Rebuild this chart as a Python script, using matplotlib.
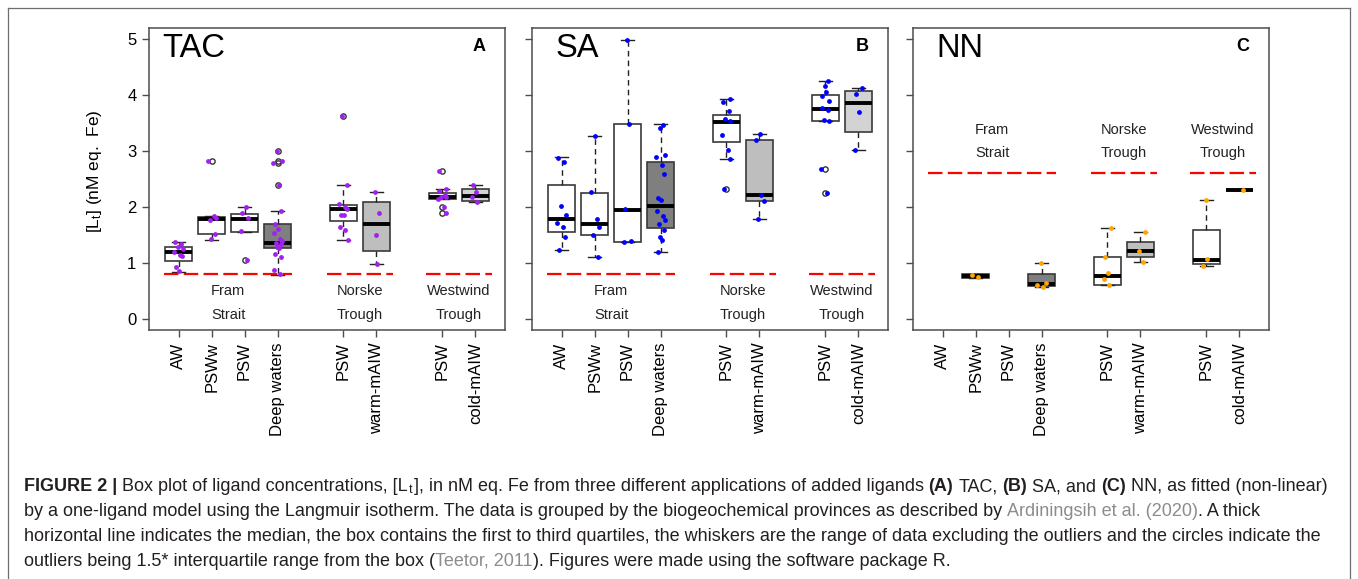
import matplotlib
matplotlib.use('Agg')
import matplotlib.pyplot as plt
from matplotlib.lines import Line2D

plt.rcParams['font.family'] = ['Liberation Sans', 'DejaVu Sans']
plt.rcParams['mathtext.fontset'] = 'custom'
plt.rcParams['mathtext.rm'] = 'Liberation Sans'
plt.rcParams['mathtext.it'] = 'Liberation Sans:italic'
plt.rcParams['mathtext.bf'] = 'Liberation Sans:bold'

# ---- data ----
positions = [1, 2, 3, 4, 6, 7, 9, 10]
xlabels = ['AW', 'PSWw', 'PSW', 'Deep waters', 'PSW', 'warm-mAIW', 'PSW', 'cold-mAIW']
fills = ['white', 'white', 'white', '#7f7f7f', 'white', '#bebebe', 'white', '#d3d3d3']
regions = ['Fram\n\nStrait', 'Norske\n\nTrough', 'Westwind\n\nTrough']
region_x = [2.5, 6.5, 9.5]
region_span = [(0.55, 4.45), (5.5, 7.5), (8.5, 10.5)]

# TAC
tac_q1 = [1.04, 1.51, 1.56, 1.27, 1.75, 1.22, 2.15, 2.11]
tac_med = [1.19, 1.79, 1.79, 1.36, 1.97, 1.69, 2.18, 2.20]
tac_q3 = [1.29, 1.82, 1.88, 1.69, 2.03, 2.08, 2.25, 2.32]
tac_lo = [0.84, 1.41, 1.56, 0.79, 1.41, 0.98, 2.15, 2.08]
tac_hi = [1.365, 1.83, 2.00, 1.92, 2.385, 2.27, 2.325, 2.39]
tac_pts = [
    [1.365, 1.33, 1.28, 1.24, 1.19, 1.15, 1.13, 0.93, 0.85],
    [2.82, 1.83, 1.80, 1.76, 1.52, 1.42],
    [2.00, 1.89, 1.80, 1.57, 1.06],
    [3.00, 2.82, 2.79, 2.40, 1.92, 1.70, 1.60, 1.53, 1.43, 1.39, 1.36, 1.33,
     1.28, 1.26, 1.16, 1.10, 0.88, 0.80],
    [3.62, 2.39, 2.05, 2.00, 1.97, 1.86, 1.85, 1.64, 1.59, 1.41],
    [2.27, 1.90, 1.49, 0.98],
    [2.64, 2.32, 2.28, 2.22, 2.18, 2.17, 2.15, 2.00, 1.89],
    [2.39, 2.27, 2.17, 2.09],
]
tac_ref = 0.81

# SA
sa_q1 = [1.56, 1.49, 1.38, 1.63, 3.16, 2.10, 3.53, 3.34]
sa_med = [1.78, 1.70, 1.95, 2.02, 3.52, 2.22, 3.76, 3.86]
sa_q3 = [2.40, 2.25, 3.48, 2.81, 3.64, 3.19, 4.01, 4.08]
sa_lo = [1.23, 1.10, 1.38, 1.19, 2.86, 1.78, 3.53, 3.01]
sa_hi = [2.885, 3.27, 4.98, 3.48, 3.93, 3.31, 4.245, 4.13]
sa_pts = [
    [2.88, 2.81, 2.01, 1.86, 1.71, 1.65, 1.47, 1.23],
    [3.27, 2.26, 1.79, 1.64, 1.50, 1.10],
    [4.98, 3.48, 1.96, 1.39, 1.37],
    [3.47, 3.42, 2.93, 2.89, 2.75, 2.59, 2.16, 2.13, 1.93, 1.84, 1.77, 1.69,
     1.59, 1.47, 1.41, 1.19],
    [3.93, 3.88, 3.72, 3.58, 3.53, 3.29, 3.01, 2.86, 2.32],
    [3.31, 3.20, 2.22, 2.11, 1.78],
    [4.245, 4.16, 4.05, 3.98, 3.89, 3.77, 3.73, 3.56, 3.53, 2.68, 2.25],
    [4.13, 4.02, 3.70, 3.01],
]
sa_ref = 0.81

# NN (no data for AW and Fram PSW)
nn_q1 = [None, 0.73, None, 0.585, 0.61, 1.10, 0.98, 2.31]
nn_med = [None, 0.765, None, 0.625, 0.76, 1.22, 1.05, 2.31]
nn_q3 = [None, 0.80, None, 0.805, 1.11, 1.38, 1.59, 2.31]
nn_lo = [None, 0.73, None, 0.56, 0.61, 1.01, 0.94, 2.31]
nn_hi = [None, 0.80, None, 1.00, 1.63, 1.56, 2.13, 2.31]
nn_pts = [
    [],
    [0.79, 0.74],
    [],
    [1.00, 0.64, 0.61, 0.56],
    [1.63, 1.11, 0.82, 0.72, 0.61],
    [1.56, 1.22, 1.01],
    [2.13, 1.07, 0.94],
    [2.31],
]
nn_ref = 2.6

# ---- style ----
W, H = 1358, 579
jit = [-0.10, 0.08, -0.03, 0.12, -0.13, 0.04, 0.10, -0.07, 0.01, -0.11,
       0.06, 0.13, -0.05, 0.09, -0.01, 0.03, -0.09, 0.11]
edge = '#3a3a3a'

fig = plt.figure(figsize=(W / 100, H / 100), dpi=100)

panels = [
    ('TAC', 'A', tac_q1, tac_med, tac_q3, tac_lo, tac_hi, tac_pts, tac_ref, '#a020f0', 149, 0.036, (0.49, 0.07)),
    ('SA', 'B', sa_q1, sa_med, sa_q3, sa_lo, sa_hi, sa_pts, sa_ref, '#0000ff', 532, 0.066, (0.49, 0.07)),
    ('NN', 'C', nn_q1, nn_med, nn_q3, nn_lo, nn_hi, nn_pts, nn_ref, '#ffa500', 913, 0.066, (3.38, 2.97)),
]

for i, (name, letter, q1, med, q3, lo, hi, pts, ref, pcol, left, tx, ry) in enumerate(panels):
    ax = fig.add_axes([left / W, 1 - 330 / H, 356 / W, 302 / H])
    stats, pos, fc = [], [], []
    for j in range(len(positions)):
        if med[j] is None:
            continue
        stats.append(dict(med=med[j], q1=q1[j], q3=q3[j], whislo=lo[j], whishi=hi[j], fliers=[]))
        pos.append(positions[j])
        fc.append(fills[j])
    bp = ax.bxp(stats, positions=pos, widths=0.8, patch_artist=True, showfliers=False,
                boxprops=dict(edgecolor=edge, linewidth=1.2),
                medianprops=dict(color='black', linewidth=2.8, solid_capstyle='butt'),
                whiskerprops=dict(color='#222222', linewidth=1.0, linestyle=(0, (4, 3))),
                capprops=dict(color='#222222', linewidth=1.0), capwidths=0.4)
    for patch, c in zip(bp['boxes'], fc):
        patch.set_facecolor(c)

    # reference line per region
    for (a, b) in region_span:
        ax.plot([a, b], [ref, ref], color='#ff0000', linewidth=1.6,
                dashes=(6.5, 2.4), solid_capstyle='butt', zorder=3)

    # points and outliers
    k = 0
    for j, vals in enumerate(pts):
        for v in vals:
            x = positions[j] + jit[k % len(jit)]
            k += 1
            if med[j] is not None and (v > hi[j] + 0.02 or v < lo[j] - 0.02):
                ax.plot(positions[j], v, 'o', mfc='none', mec='#333333', ms=3.8, mew=1.0, zorder=4)
            ax.scatter(x, v, s=12, color=pcol, linewidths=0, zorder=5)

    for rx, lab in zip(region_x, regions):
        top, bottom = lab.split('\n\n')
        ax.text(rx, ry[0], top, ha='center', va='center', fontsize=10.5, color='#222222')
        ax.text(rx, ry[1], bottom, ha='center', va='center', fontsize=10.5, color='#222222')

    ax.text(tx, 0.903, name, transform=ax.transAxes, fontsize=23.5, va='baseline', ha='left')
    ax.text(0.945, 0.925, letter, transform=ax.transAxes, fontsize=13, fontweight='bold',
            va='baseline', ha='right')

    ax.set_xlim(0.1, 10.9)
    ax.set_ylim(-0.2, 5.2)
    ax.set_xticks(positions)
    ax.set_xticklabels(xlabels, rotation=90, fontsize=12)
    ax.set_yticks([0, 1, 2, 3, 4, 5])
    if i == 0:
        ax.set_yticklabels(['0', '1', '2', '3', '4', '5'], fontsize=12)
    else:
        ax.set_yticklabels([])
    for s in ax.spines.values():
        s.set_color('#4d4d4d')
        s.set_linewidth(1.1)
    ax.tick_params(direction='out', length=5, width=1.0, color='#4d4d4d', pad=4)

fig.text(95 / W, 1 - 171 / H, r'[L$_{\mathregular{t}}$] (nM eq.  Fe)', rotation=90,
         ha='center', va='center', fontsize=12.5)

# outer frame
for xs, ys in [((8, 8), (8, 600)), ((8, 1350), (8, 8)), ((1350, 1350), (8, 600))]:
    fig.add_artist(Line2D([x / W for x in xs], [1 - y / H for y in ys],
                          transform=fig.transFigure, color='#6e6e6e', linewidth=0.9))

# ---- caption ----
cap_lines = [
    [('FIGURE 2 |', 'b'), (' Box plot of ligand concentrations, [L', 'n'), ('$_{\\mathregular{t}}$', 'n'),
     ('], in nM eq. Fe from three different applications of added ligands ', 'n'),
     ('(A)', 'b'), (' TAC, ', 'n'), ('(B)', 'b'), (' SA, and ', 'n'), ('(C)', 'b'), (' NN, as fitted (non-linear)', 'n')],
    [('by a one-ligand model using the Langmuir isotherm. The data is grouped by the biogeochemical provinces as described by ', 'n'),
     ('Ardiningsih et al. (2020)', 'g'), ('. A thick', 'n')],
    [('horizontal line indicates the median, the box contains the first to third quartiles, the whiskers are the range of data excluding the outliers and the circles indicate the', 'n')],
    [('outliers being 1.5* interquartile range from the box (', 'n'), ('Teetor, 2011', 'g'),
     ('). Figures were made using the software package R.', 'n')],
]
cap_y = [491, 516, 541, 566]

renderer = fig.canvas.get_renderer()


def space_width(size, weight):
    a = fig.text(0, 0, 'a a', fontsize=size, fontweight=weight)
    b = fig.text(0, 0, 'aa', fontsize=size, fontweight=weight)
    w = a.get_window_extent(renderer).width - b.get_window_extent(renderer).width
    a.remove()
    b.remove()
    return w


def put_line(pieces, x0, y0, size):
    x = x0
    made = []
    for txt, style in pieces:
        weight = 'bold' if style == 'b' else 'normal'
        color = '#8c8c8c' if style == 'g' else '#231f20'
        sp = space_width(size, weight)
        x += (len(txt) - len(txt.lstrip(' '))) * sp
        t = fig.text(x / W, 1 - y0 / H, txt.strip(' '), fontsize=size, fontweight=weight,
                     color=color, ha='left', va='baseline')
        x = t.get_window_extent(renderer).x1 + (len(txt) - len(txt.rstrip(' '))) * sp
        made.append(t)
    return x, made


end, tmp = put_line(cap_lines[0], 24, cap_y[0], 10)
for t in tmp:
    t.remove()
cap_size = 10 * (1333 - 24) / (end - 24)
for pieces, y in zip(cap_lines, cap_y):
    put_line(pieces, 24, y, cap_size)

fig.savefig('out.png', dpi=100)
